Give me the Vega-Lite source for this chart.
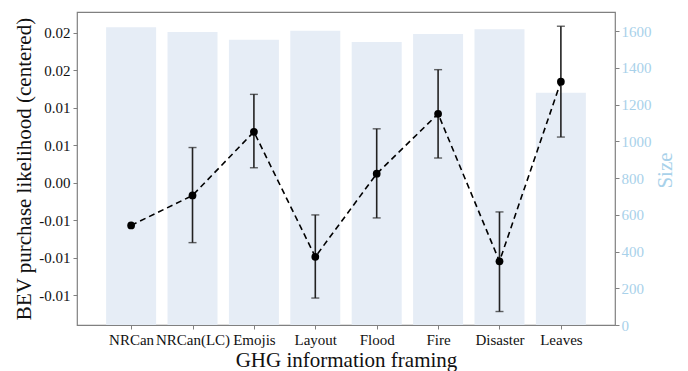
{
  "$schema": "https://vega.github.io/schema/vega-lite/v6.json",
  "autosize": {"type": "none"},
  "width": 538,
  "height": 313,
  "padding": {"left": 77, "top": 12, "right": 73, "bottom": 46},
  "config": {
    "font": "Liberation Serif",
    "view": {"stroke": "#808080", "strokeWidth": 1.2},
    "axis": {
      "labelFont": "Liberation Serif",
      "titleFont": "Liberation Serif",
      "labelFontSize": 15,
      "titleFontSize": 21,
      "titleFontWeight": "normal",
      "labelColor": "#111111",
      "titleColor": "#111111",
      "domainColor": "#808080",
      "tickColor": "#808080",
      "tickSize": 4,
      "grid": false
    }
  },
  "data": {
    "values": [
      {"cat": "NRCan", "idx": 0, "size": 1622, "mean": -0.0057, "lo": null, "hi": null},
      {"cat": "NRCan(LC)", "idx": 1, "size": 1596, "mean": -0.0017, "lo": -0.0080, "hi": 0.0047},
      {"cat": "Emojis", "idx": 2, "size": 1554, "mean": 0.0068, "lo": 0.0020, "hi": 0.0118},
      {"cat": "Layout", "idx": 3, "size": 1603, "mean": -0.0099, "lo": -0.0154, "hi": -0.0043},
      {"cat": "Flood", "idx": 4, "size": 1542, "mean": 0.0012, "lo": -0.0047, "hi": 0.0072},
      {"cat": "Fire", "idx": 5, "size": 1585, "mean": 0.0092, "lo": 0.0033, "hi": 0.0151},
      {"cat": "Disaster", "idx": 6, "size": 1611, "mean": -0.0105, "lo": -0.0172, "hi": -0.0039},
      {"cat": "Leaves", "idx": 7, "size": 1265, "mean": 0.0135, "lo": 0.0061, "hi": 0.0209}
    ]
  },
  "encoding": {
    "x": {
      "field": "idx",
      "type": "quantitative",
      "scale": {"domain": [-0.8, 7.8], "nice": false, "zero": false},
      "axis": {
        "title": "GHG information framing",
        "values": [0, 1, 2, 3, 4, 5, 6, 7],
        "labelExpr": "['NRCan','NRCan(LC)','Emojis','Layout','Flood','Fire','Disaster','Leaves'][datum.value]",
        "labelFont": "Liberation Serif",
        "labelFontSize": 15,
        "labelPadding": 3,
        "titlePadding": 2,
        "domain": false
      }
    }
  },
  "layer": [
    {
      "mark": {"type": "bar", "size": 50, "color": "#e6edf6"},
      "encoding": {
        "y": {
          "field": "size",
          "type": "quantitative",
          "scale": {"domain": [0, 1705], "nice": false},
          "axis": {
            "orient": "right",
            "title": "Size",
            "values": [0, 200, 400, 600, 800, 1000, 1200, 1400, 1600],
            "format": "d",
            "labelFont": "Liberation Serif",
            "labelFontSize": 15,
            "labelColor": "#a8d1ea",
            "titleColor": "#a8d1ea",
            "titleAngle": 270,
            "titleAlign": "center",
            "titleBaseline": "middle",
            "titleX": 50,
            "titleY": 158,
            "labelPadding": 2,
            "domain": false
          }
        }
      }
    },
    {
      "encoding": {
        "y": {
          "field": "mean",
          "type": "quantitative",
          "scale": {"domain": [-0.019, 0.0228], "nice": false, "zero": false},
          "axis": {
            "orient": "left",
            "title": "BEV purchase likelihood (centered)",
            "values": [-0.015, -0.01, -0.005, 0, 0.005, 0.01, 0.015, 0.02],
            "labelExpr": "datum.value > 0.012 ? '0.02' : datum.value > 0.003 ? '0.01' : datum.value > -0.002 ? '0.00' : '-0.01'",
            "labelFont": "Liberation Serif",
            "labelFontSize": 15,
            "labelPadding": 3,
            "titlePadding": 4,
            "domain": false
          }
        }
      },
      "layer": [
        {
          "transform": [{"filter": "datum.lo != null"}],
          "mark": {"type": "rule", "color": "#222222", "strokeWidth": 1.6},
          "encoding": {
            "y": {"field": "lo", "type": "quantitative"},
            "y2": {"field": "hi"}
          }
        },
        {
          "transform": [{"filter": "datum.lo != null"}],
          "mark": {"type": "tick", "orient": "horizontal", "color": "#222222", "size": 8, "thickness": 1.4},
          "encoding": {
            "y": {"field": "lo", "type": "quantitative"}
          }
        },
        {
          "transform": [{"filter": "datum.hi != null"}],
          "mark": {"type": "tick", "orient": "horizontal", "color": "#222222", "size": 8, "thickness": 1.4},
          "encoding": {
            "y": {"field": "hi", "type": "quantitative"}
          }
        },
        {
          "mark": {"type": "line", "color": "#000000", "strokeWidth": 1.6, "strokeDash": [6, 4]},
          "encoding": {}
        },
        {
          "mark": {"type": "point", "filled": true, "opacity": 1, "color": "#000000", "size": 60},
          "encoding": {}
        }
      ]
    }
  ],
  "resolve": {"scale": {"y": "independent"}}
}
